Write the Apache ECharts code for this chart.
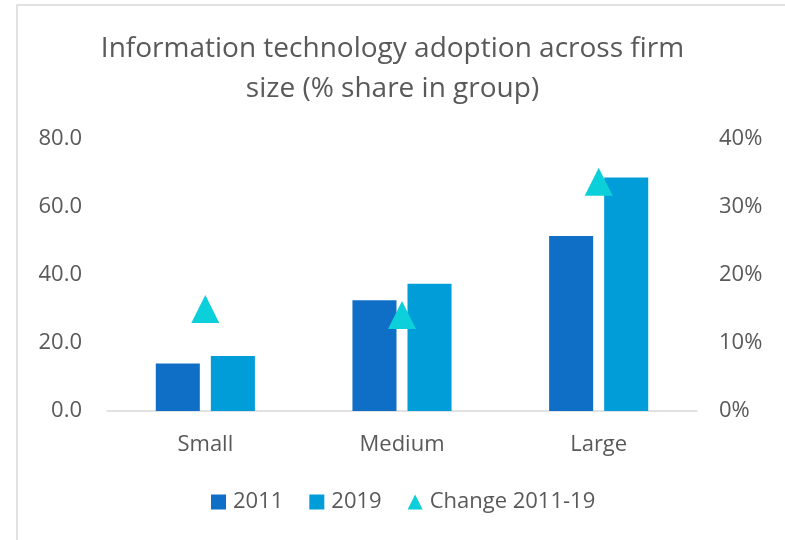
<!DOCTYPE html>
<html>
<head>
<meta charset="utf-8">
<script src="https://cdn.jsdelivr.net/npm/echarts@6/dist/echarts.min.js"></script>
<style>
  html, body { margin: 0; padding: 0; background: #fff; }
  #chart { width: 785px; height: 540px; }
</style>
</head>
<body>
<div id="chart"></div>
<script>
const categories = ['Small', 'Medium', 'Large']
const share2011 = [14.0, 32.6, 51.5]
const share2019 = [16.2, 37.4, 68.7]
const change = [15.0, 14.1, 33.7]   // percent change 2011-19

const textColor = '#595959'
const font = 'Open Sans'

const chart = echarts.init(document.getElementById('chart'))
chart.setOption({
  animation: false,
  textStyle: { fontFamily: font },
  title: {
    text: 'Information technology adoption across firm\nsize (% share in group)',
    left: 'center',
    top: 24,
    textStyle: {
      fontFamily: font,
      fontSize: 28,
      fontWeight: 'normal',
      color: textColor,
      lineHeight: 40
    }
  },
  graphic: [{
    type: 'rect',
    silent: true,
    shape: { x: 17, y: 5, width: 800, height: 600 },
    style: { fill: 'none', stroke: '#d9d9d9', lineWidth: 1.5 }
  }],
  legend: {
    bottom: 22,
    left: 206,
    itemWidth: 15,
    itemHeight: 15,
    itemGap: 26,
    textStyle: { fontFamily: font, fontSize: 22, color: textColor, padding: [0, 0, 0, 2] },
    data: [
      { name: '2011', icon: 'rect' },
      { name: '2019', icon: 'rect' },
      { name: 'Change 2011-19', icon: 'triangle', itemStyle: { opacity: 1 } }
    ]
  },
  grid: { left: 107, right: 88, top: 139, bottom: 129 },
  xAxis: {
    type: 'category',
    data: categories,
    axisLine: { lineStyle: { color: '#d9d9d9', width: 1.5 } },
    axisTick: { show: false },
    axisLabel: { fontSize: 22, color: textColor, margin: 23 }
  },
  yAxis: [{
    type: 'value',
    min: 0,
    max: 80,
    interval: 20,
    splitLine: { show: false },
    axisLine: { show: false },
    axisTick: { show: false },
    axisLabel: {
      fontSize: 22,
      color: textColor,
      margin: 25,
      formatter: v => v.toFixed(1)
    }
  }, {
    type: 'value',
    min: 0,
    max: 40,
    interval: 10,
    splitLine: { show: false },
    axisLine: { show: false },
    axisTick: { show: false },
    axisLabel: {
      fontSize: 22,
      color: textColor,
      margin: 22,
      formatter: '{value}%'
    }
  }],
  series: [{
    name: '2011',
    type: 'bar',
    data: share2011,
    barWidth: '22.4%',
    barGap: '25%',
    itemStyle: { color: '#0F6FC6' }
  }, {
    name: '2019',
    type: 'bar',
    data: share2019,
    barWidth: '22.4%',
    itemStyle: { color: '#009DD9' }
  }, {
    name: 'Change 2011-19',
    type: 'scatter',
    yAxisIndex: 1,
    data: change,
    symbol: 'triangle',
    symbolSize: [28, 28],
    z: 5,
    itemStyle: { color: '#0BD0D9', opacity: 1 }
  }]
})
</script>
</body>
</html>
